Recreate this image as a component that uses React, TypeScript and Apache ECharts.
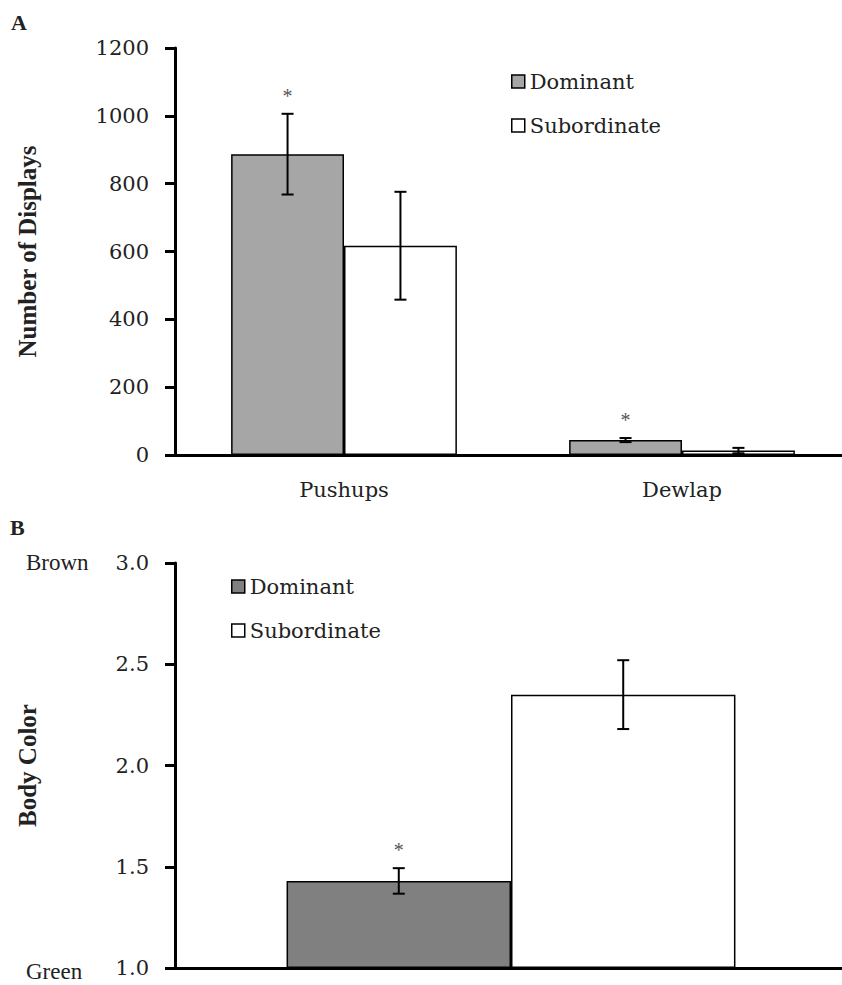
import React, { useEffect, useRef } from "react";
import * as echarts from "echarts";

// Panel A data
const categoriesA = ["Pushups", "Dewlap"];
const dominantA = [887, 44];
const dominantAErr = [119, 6];
const dominantASig = [1, 1];
const subordinateA = [617, 13];
const subordinateAErr = [159, 8];
const subordinateASig = [0, 0];
const ticksA = { min: 0, max: 1200, interval: 200 };

// Panel B data
const categoriesB = [""];
const dominantB = [1.43];
const dominantBErr = [0.063];
const dominantBSig = [1];
const subordinateB = [2.35];
const subordinateBErr = [0.17];
const subordinateBSig = [0];
const ticksB = { min: 1, max: 3, interval: 0.5 };

const seriesNames = ["Dominant", "Subordinate"];

const FONT = "Liberation Serif";
const LABEL_FONT = "DejaVu Serif";
const LABEL_SIZE = 21;
const TXT = "#222";
const BAR_FRAC = 0.334;

function errSeries(
  gridIdx: number,
  vals: number[],
  errs: number[],
  sig: number[],
  sign: number
) {
  return {
    type: "custom",
    xAxisIndex: gridIdx,
    yAxisIndex: gridIdx,
    z: 10,
    silent: true,
    encode: { x: 0, y: 1 },
    data: vals.map((v, i) => [i, v, errs[i], sig[i]]),
    renderItem: (params: any, api: any) => {
      const i = api.value(0);
      const v = api.value(1);
      const e = api.value(2);
      const s = api.value(3);
      const bw = api.size([1, 0])[0];
      const off = (sign * bw * BAR_FRAC) / 2;
      const top = api.coord([i, v + e]);
      const bot = api.coord([i, v - e]);
      const x = top[0] + off;
      const cap = 6;
      const st = { stroke: "#000", lineWidth: 2 };
      const children: any[] = [
        { type: "line", shape: { x1: x, y1: top[1], x2: x, y2: bot[1] }, style: st },
        { type: "line", shape: { x1: x - cap, y1: top[1], x2: x + cap, y2: top[1] }, style: st },
        { type: "line", shape: { x1: x - cap, y1: bot[1], x2: x + cap, y2: bot[1] }, style: st },
      ];
      if (s) {
        children.push({
          type: "text",
          x: x,
          y: top[1] - 18,
          style: {
            text: "*",
            fill: "#555",
            fontSize: 20,
            fontFamily: FONT,
            align: "center",
            verticalAlign: "middle",
          },
        });
      }
      return { type: "group", children };
    },
  };
}

export default function App() {
  const ref = useRef<HTMLDivElement>(null);
  useEffect(() => {
    if (!ref.current) return;
    const chart = echarts.init(ref.current, undefined, { renderer: "svg" });
    const axisLineStyle = { color: "#000", width: 3 };
    const nameStyle = { fontFamily: FONT, fontSize: 25, fontWeight: "bold", color: TXT };
    const labelStyle = { fontFamily: LABEL_FONT, fontSize: LABEL_SIZE, color: TXT };
    const legendCommon = {
      orient: "vertical",
      icon: "rect",
      itemWidth: 13,
      itemHeight: 13,
      itemGap: 23,
      selectedMode: false,
      textStyle: labelStyle,
    };
    const option: any = {
      animation: false,
      backgroundColor: "#fff",
      textStyle: { fontFamily: FONT, color: TXT },
      grid: [
        { left: 175, top: 48, width: 676, height: 407 },
        { left: 175, top: 563, width: 672, height: 405 },
      ],
      legend: [
        {
          ...legendCommon,
          left: 506,
          top: 66,
          data: [
            { name: seriesNames[0], itemStyle: { color: "#A6A6A6", borderColor: "#000", borderWidth: 1.5 } },
            { name: seriesNames[1], itemStyle: { color: "#fff", borderColor: "#000", borderWidth: 1.5 } },
          ],
        },
        {
          ...legendCommon,
          left: 226,
          top: 571,
          data: [
            { name: seriesNames[0], itemStyle: { color: "#808080", borderColor: "#000", borderWidth: 1.5 } },
            { name: seriesNames[1], itemStyle: { color: "#fff", borderColor: "#000", borderWidth: 1.5 } },
          ],
        },
      ],
      xAxis: [
        {
          type: "category",
          gridIndex: 0,
          data: categoriesA,
          axisLine: { lineStyle: axisLineStyle },
          axisTick: { show: false },
          axisLabel: { ...labelStyle, margin: 24 },
        },
        {
          type: "category",
          gridIndex: 1,
          data: categoriesB,
          axisLine: { lineStyle: axisLineStyle },
          axisTick: { show: false },
          axisLabel: { show: false },
        },
      ],
      yAxis: [
        {
          type: "value",
          gridIndex: 0,
          ...ticksA,
          splitLine: { show: false },
          axisLine: { show: true, lineStyle: axisLineStyle },
          axisTick: { show: true, length: 10, lineStyle: { color: "#000", width: 3 } },
          axisLabel: { ...labelStyle, margin: 26, formatter: (v: number) => String(v) },
          name: "Number of Displays",
          nameLocation: "middle",
          nameGap: 135,
          nameRotate: 90,
          nameTextStyle: nameStyle,
        },
        {
          type: "value",
          gridIndex: 1,
          ...ticksB,
          startValue: 1,
          splitLine: { show: false },
          axisLine: { show: true, lineStyle: axisLineStyle },
          axisTick: { show: true, length: 10, lineStyle: { color: "#000", width: 3 } },
          axisLabel: { ...labelStyle, margin: 26, formatter: (v: number) => v.toFixed(1) },
          name: "Body Color",
          nameLocation: "middle",
          nameGap: 135,
          nameRotate: 90,
          nameTextStyle: nameStyle,
        },
      ],
      series: [
        {
          type: "bar",
          name: seriesNames[0],
          xAxisIndex: 0,
          yAxisIndex: 0,
          data: dominantA,
          barWidth: BAR_FRAC * 100 + "%",
          barGap: "0%",
          itemStyle: { color: "#A6A6A6", borderColor: "#000", borderWidth: 1.5 },
        },
        {
          type: "bar",
          name: seriesNames[1],
          xAxisIndex: 0,
          yAxisIndex: 0,
          data: subordinateA,
          barWidth: BAR_FRAC * 100 + "%",
          barGap: "0%",
          itemStyle: { color: "#fff", borderColor: "#000", borderWidth: 1.5 },
        },
        {
          type: "bar",
          name: seriesNames[0],
          xAxisIndex: 1,
          yAxisIndex: 1,
          data: dominantB,
          barWidth: BAR_FRAC * 100 + "%",
          barGap: "0%",
          itemStyle: { color: "#808080", borderColor: "#000", borderWidth: 1.5 },
        },
        {
          type: "bar",
          name: seriesNames[1],
          xAxisIndex: 1,
          yAxisIndex: 1,
          data: subordinateB,
          barWidth: BAR_FRAC * 100 + "%",
          barGap: "0%",
          itemStyle: { color: "#fff", borderColor: "#000", borderWidth: 1.5 },
        },
        errSeries(0, dominantA, dominantAErr, dominantASig, -1),
        errSeries(0, subordinateA, subordinateAErr, subordinateASig, 1),
        errSeries(1, dominantB, dominantBErr, dominantBSig, -1),
        errSeries(1, subordinateB, subordinateBErr, subordinateBSig, 1),
      ],
      graphic: [
        {
          type: "text",
          left: 11,
          top: 11,
          style: { text: "A", fontFamily: FONT, fontWeight: "bold", fontSize: 22, fill: TXT },
        },
        {
          type: "text",
          left: 10,
          top: 516,
          style: { text: "B", fontFamily: FONT, fontWeight: "bold", fontSize: 22, fill: TXT },
        },
        {
          type: "text",
          x: 26,
          y: 562,
          style: { text: "Brown", fontFamily: FONT, fontSize: 23, fill: TXT, verticalAlign: "middle" },
        },
        {
          type: "text",
          x: 26,
          y: 971,
          style: { text: "Green", fontFamily: FONT, fontSize: 23, fill: TXT, verticalAlign: "middle" },
        },
      ],
    };
    chart.setOption(option);
    return () => chart.dispose();
  }, []);
  return (
    <div
      style={{
        position: "fixed",
        left: 0,
        top: 0,
        width: 842,
        height: 985,
        overflow: "hidden",
        background: "#fff",
      }}
    >
      <div ref={ref} style={{ width: 870, height: 985 }} />
    </div>
  );
}
